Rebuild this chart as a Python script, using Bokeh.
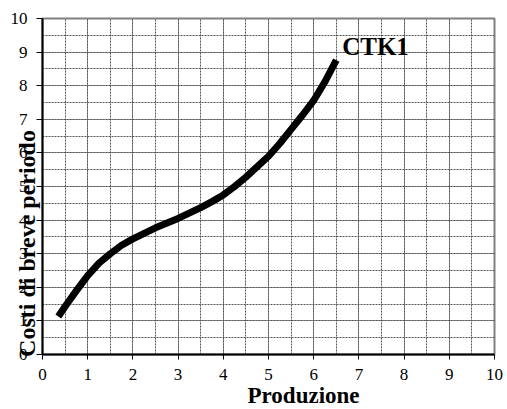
from bokeh.plotting import figure
from bokeh.models import Label, FixedTicker, Title
from bokeh.embed import file_html
from bokeh.resources import INLINE

# Data
produzione = [0.35, 0.5, 0.75, 1.0, 1.25, 1.5, 1.75, 2.0, 2.5, 3.0, 3.5, 3.75, 4.0, 4.25, 4.5,
              5.0, 5.25, 5.5, 5.75, 6.0, 6.25, 6.5]
costi = [1.13, 1.43, 1.9, 2.35, 2.72, 3.0, 3.25, 3.44, 3.77, 4.05, 4.37, 4.55, 4.75, 5.0, 5.28,
         5.9, 6.28, 6.7, 7.12, 7.56, 8.12, 8.76]
series_name = "CTK1"
x_ticks = list(range(0, 11))
y_ticks = list(range(0, 11))
minor_ticks = [i * 0.5 for i in range(0, 21)]
x_title = "Produzione"
y_title = "Costi di breve periodo"

FONT = "Liberation Serif"

p = figure(width=507, height=409, x_range=(0, 10), y_range=(0, 10),
           output_backend="svg", toolbar_location=None,
           min_border_left=42, min_border_right=13, min_border_top=18, min_border_bottom=55)
p.background_fill_color = "white"
p.border_fill_color = "white"
p.outline_line_color = "#808080"
p.outline_line_width = 2

for ax, ticks, tout in ((p.xaxis, x_ticks, 5), (p.yaxis, y_ticks, 6)):
    ax.ticker = FixedTicker(ticks=ticks, minor_ticks=minor_ticks)
    ax.axis_line_color = "black"
    ax.axis_line_width = 2
    ax.major_tick_line_color = "black"
    ax.major_tick_line_width = 1
    ax.major_tick_out = tout
    ax.major_tick_in = 0
    ax.minor_tick_line_color = None
    ax.major_label_text_font = FONT
    ax.major_label_text_font_size = "17px"
    ax.major_label_text_color = "black"
    ax.major_label_standoff = 9

# y axis title drawn by the axis, overlapping the tick labels as in the reference;
# trailing no-break spaces move the visible words down, as in the reference
yax = p.yaxis[0]
yax.axis_label = y_title + "\u00a0" * 19
yax.axis_label_text_font = FONT
yax.axis_label_text_font_style = "bold"
yax.axis_label_text_font_size = "24px"
yax.axis_label_text_color = "black"
yax.axis_label_standoff = -32

for g in (p.xgrid, p.ygrid):
    g.grid_line_color = "#555555"
    g.grid_line_dash = "2 1"
    g.grid_line_width = 1
    g.minor_grid_line_color = "#555555"
    g.minor_grid_line_dash = "2 1"
    g.minor_grid_line_width = 1

p.line(produzione, costi, line_width=7, line_color="black", line_join="round", line_cap="butt")

p.add_layout(Label(x=6.63, y=9.16, text=series_name, text_font=FONT, text_font_style="bold",
                   text_font_size="25px", text_align="left", text_baseline="alphabetic",
                   text_color="black"))

p.add_layout(Title(text=x_title, align="left", offset=205, vertical_align="bottom", standoff=-4,
                   text_font=FONT, text_font_style="bold", text_font_size="23px",
                   text_color="black"), "below")

open("out.html", "w").write(file_html(p, INLINE))
